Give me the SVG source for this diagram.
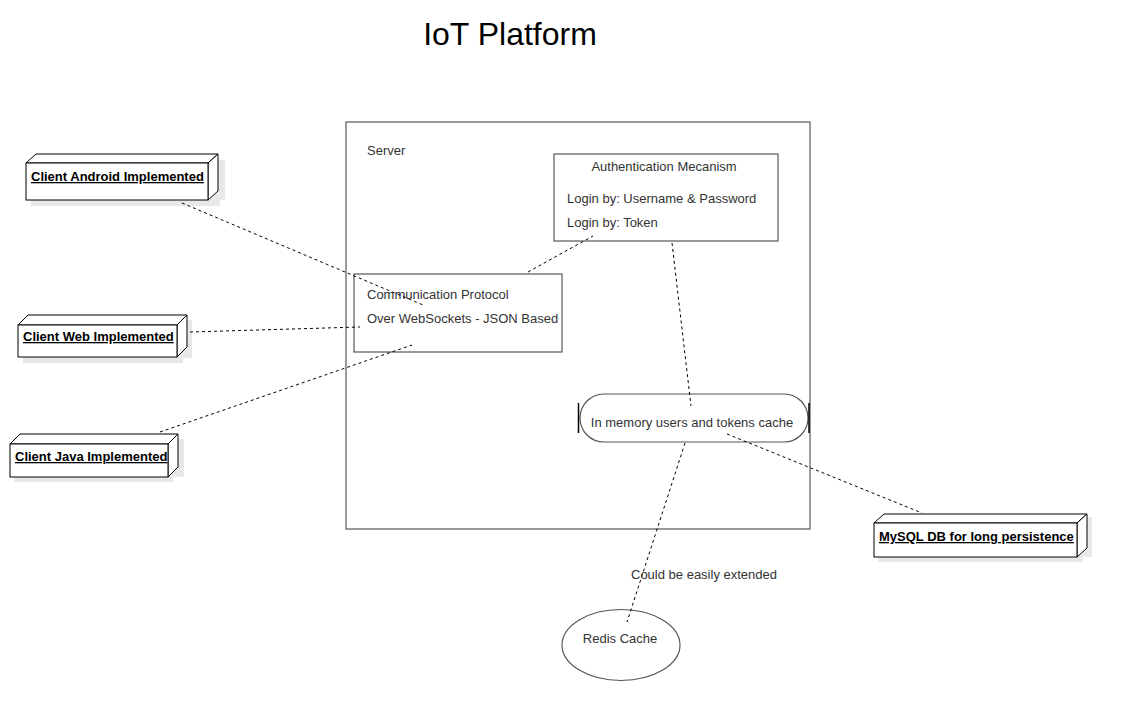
<svg xmlns="http://www.w3.org/2000/svg" width="1128" height="721" viewBox="0 0 1128 721">
<style>
text{font-family:"Liberation Sans",Arial,sans-serif;font-size:13px;fill:#333}
.title{font-size:32px;fill:#000}
.nb{font-weight:bold;fill:#000;text-decoration:underline}
.box{fill:#fff;stroke:#555;stroke-width:1.2}
.n3{fill:#fff;stroke:#000;stroke-width:1}
.sh{fill:#e8e8e8;stroke:none}
.c{fill:none;stroke:#000;stroke-width:1;stroke-dasharray:3,3}
</style>
<rect width="1128" height="721" fill="#fff"/>
<text class="title" x="510" y="45" text-anchor="middle">IoT Platform</text>

<g id="server">
<rect class="box" x="346" y="122" width="464" height="407"/>
<text x="367" y="155">Server</text>
</g>

<g id="auth">
<rect class="box" x="554" y="154" width="224" height="87"/>
<text x="664" y="171" text-anchor="middle">Authentication Mecanism</text>
<text x="567" y="203">Login by: Username &amp; Password</text>
<text x="567" y="227">Login by: Token</text>
</g>

<g id="comm">
<rect class="box" x="354" y="274" width="208" height="78"/>
<text x="367" y="299">Communication Protocol</text>
<text x="367" y="323">Over WebSockets - JSON Based</text>
</g>

<g id="cache">
<rect class="box" x="580" y="394" width="228" height="48" rx="24" ry="24"/>
<line x1="578.5" y1="403" x2="578.5" y2="433" stroke="#000" stroke-width="1.5"/>
<line x1="809" y1="403" x2="809" y2="433" stroke="#000" stroke-width="1.5"/>
<text x="692" y="427" text-anchor="middle">In memory users and tokens cache</text>
</g>

<g id="redis">
<ellipse class="box" cx="621" cy="645" rx="59" ry="35.5"/>
<text x="620" y="643" text-anchor="middle">Redis Cache</text>
</g>

<g id="android">
<rect class="sh" x="31" y="168" width="189" height="38"/>
<rect class="sh" x="215" y="160" width="10" height="40"/>
<polygon class="n3" points="26,163 36,154 218,154 208,163"/>
<polygon class="n3" points="208,163 218,154 218,191 208,200"/>
<rect class="n3" x="26" y="163" width="182" height="37" stroke-width="1.5"/>
<text class="nb" x="31" y="181">Client Android Implemented</text>
</g>

<g id="web">
<rect class="sh" x="23" y="330" width="160" height="33"/>
<rect class="sh" x="183" y="320" width="9" height="38"/>
<polygon class="n3" points="18,325 28,315 187,315 177,325"/>
<polygon class="n3" points="177,325 187,315 187,347 177,357"/>
<rect class="n3" x="18" y="325" width="159" height="32" stroke-width="1.5"/>
<text class="nb" x="23" y="341">Client Web Implemented</text>
</g>

<g id="java">
<rect class="sh" x="14" y="449" width="159" height="33"/>
<rect class="sh" x="173" y="439" width="11" height="38"/>
<polygon class="n3" points="10,444 20,434 178,434 168,444"/>
<polygon class="n3" points="168,444 178,434 178,467 168,477"/>
<rect class="n3" x="10" y="444" width="158" height="33" stroke-width="1.5"/>
<text class="nb" x="15" y="461">Client Java Implemented</text>
</g>

<g id="mysql">
<rect class="sh" x="878" y="528" width="205" height="34"/>
<rect class="sh" x="1083" y="517" width="9" height="40"/>
<polygon class="n3" points="874,523 884,514 1087,514 1077,523"/>
<polygon class="n3" points="1077,523 1087,514 1087,548 1077,557"/>
<rect class="n3" x="874" y="523" width="203" height="34" stroke-width="1.5"/>
<text class="nb" x="879" y="541">MySQL DB for long persistence</text>
</g>

<g id="connectors">
<line class="c" x1="182" y1="203" x2="423" y2="305"/>
<line class="c" x1="190" y1="332" x2="360" y2="327"/>
<line class="c" x1="160" y1="432" x2="412" y2="345"/>
<line class="c" x1="528" y1="272" x2="593" y2="236"/>
<line class="c" x1="672" y1="243" x2="691" y2="406"/>
<line class="c" x1="685" y1="443" x2="627" y2="622"/>
<line class="c" x1="727" y1="434" x2="922" y2="513"/>
<text x="631" y="579">Could be easily extended</text>
</g>
</svg>
